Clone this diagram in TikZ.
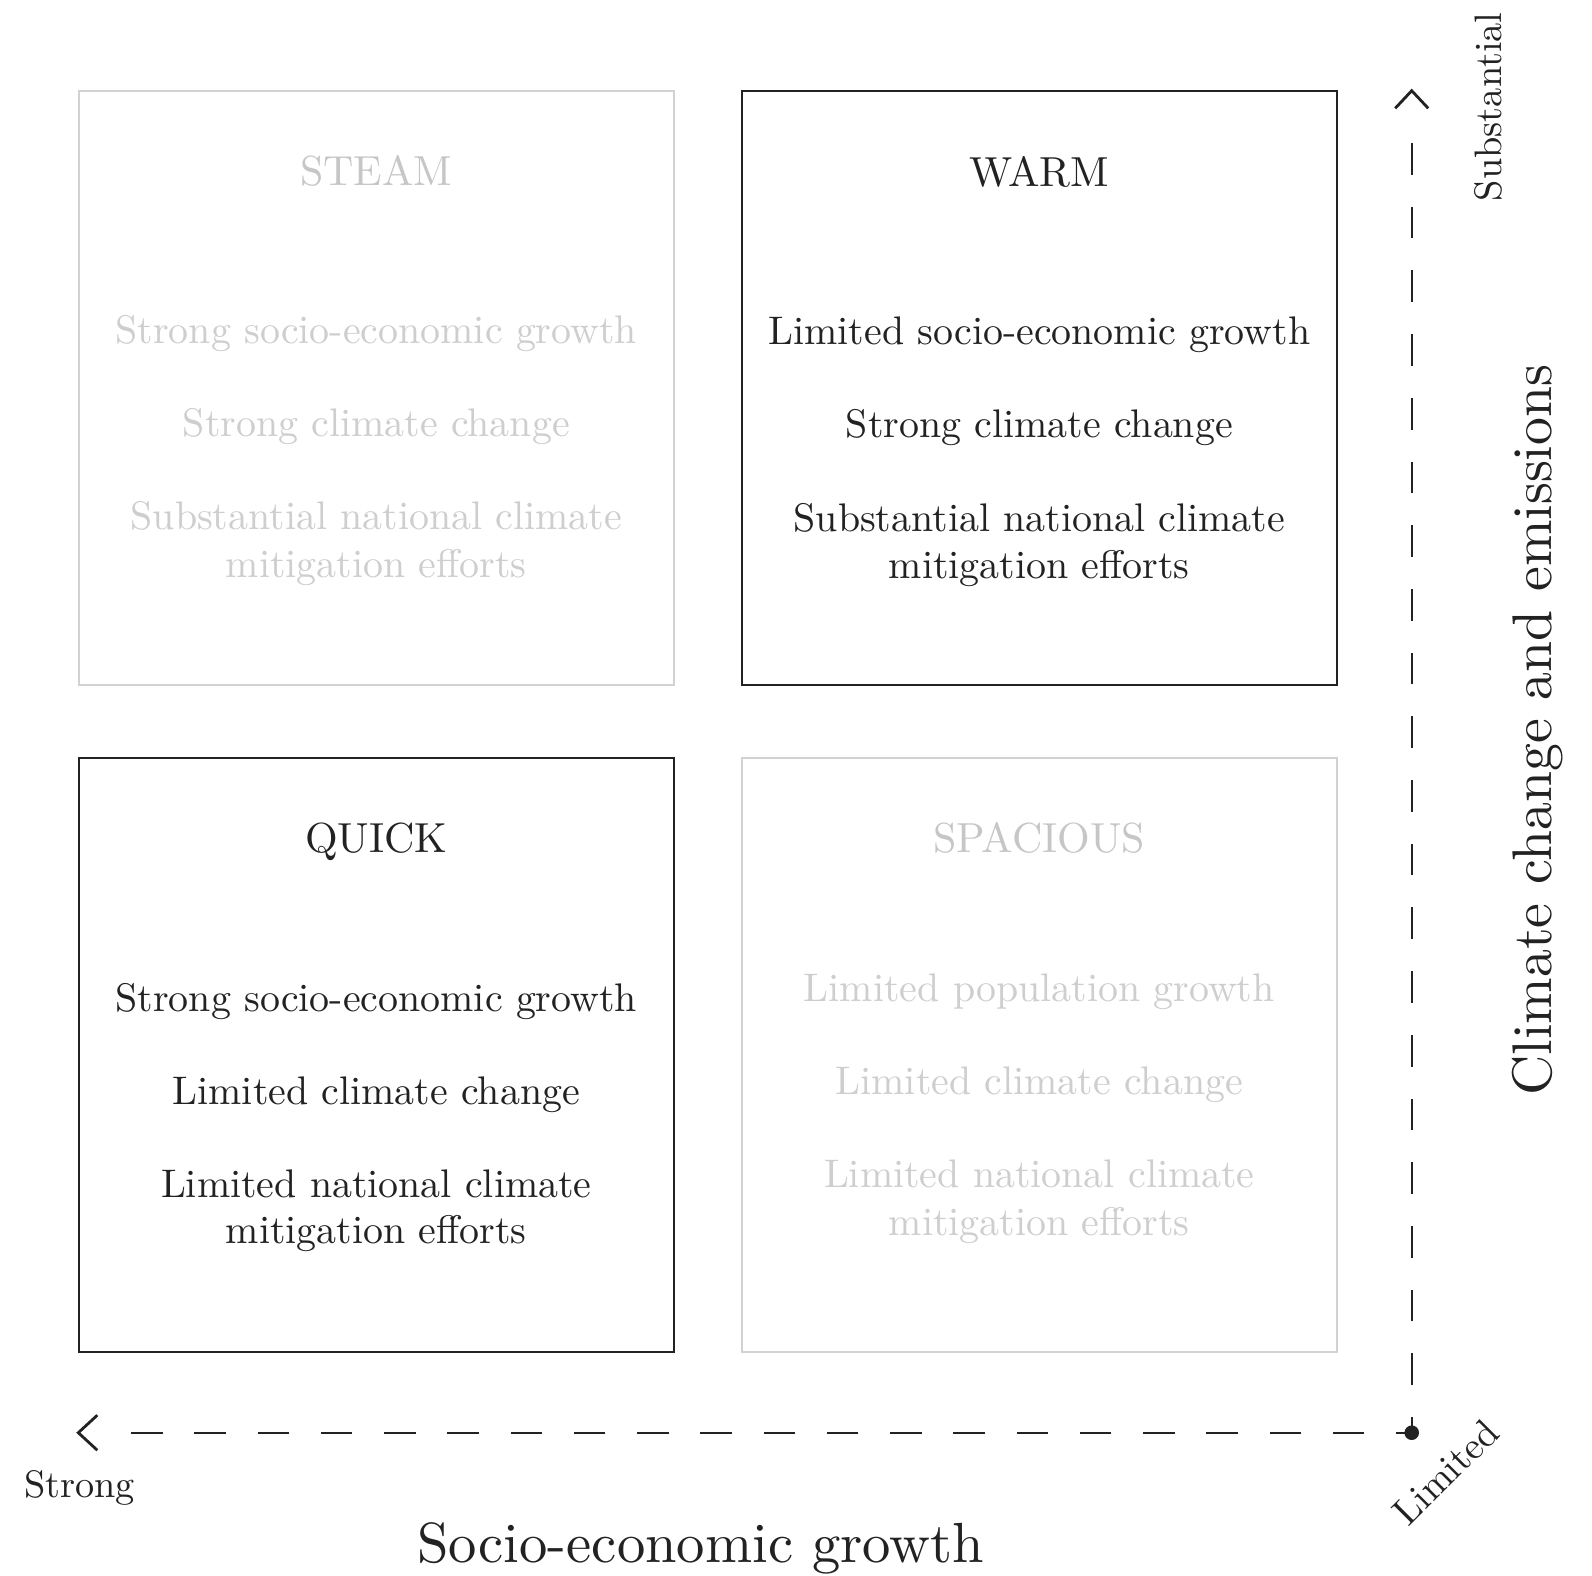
\documentclass[tikz,border=0pt]{standalone}
\usepackage{fontspec}
\setmainfont{lmroman10-regular.otf}
\usetikzlibrary{calc}
\definecolor{ink}{HTML}{222222}
\definecolor{faintline}{HTML}{D2D2D2}
\definecolor{fainttext}{HTML}{CECECE}
\definecolor{fainttitle}{HTML}{C6C6C6}
\begin{document}
\begin{tikzpicture}[x=1pt,y=-1pt,
  quad/.style={draw=#1, line width=1.6pt, minimum width=595pt, minimum height=594pt, anchor=north west, inner sep=0pt},
  ttl/.style={anchor=base, inner sep=0pt, text=#1, font=\fontsize{42}{48}\selectfont},
  item/.style={anchor=base, inner sep=0pt, text=#1, font=\fontsize{39.9}{47}\selectfont},
  axislabel/.style={anchor=base, inner sep=0pt, text=ink, font=\fontsize{56.6}{62}\selectfont},
  ylabelfont/.style={anchor=base, inner sep=0pt, text=ink, font=\fontsize{55.8}{62}\selectfont},
  endlabel/.style={anchor=base, inner sep=0pt, text=ink, font=\fontsize{38.3}{44}\selectfont},
  hdash/.style={draw=ink, line width=2pt, dash pattern=on 31.5pt off 31.75pt, dash phase=15.8pt},
  vdash/.style={draw=ink, line width=2pt, dash pattern=on 31.7pt off 32pt, dash phase=16pt},
  chev/.style={draw=ink, line width=2.8pt, line join=miter}
]
\useasboundingbox (0,0) rectangle (1592,1575);
\fill[white] (0,0) rectangle (1592,1575);

% quadrants
\node[quad=faintline] (steam) at (78,90) {};
\node[quad=ink] (warm) at (741,90) {};
\node[quad=ink] (quick) at (78,757) {};
\node[quad=faintline] (spacious) at (741,757) {};

% STEAM
\node[ttl=fainttitle] (steamT) at ($(steam.north)+(0,95.5)$) {STEAM};
\node[item=fainttext] (steam1) at ($(steam.north)+(0,253)$) {Strong socio-economic growth};
\node[item=fainttext] (steam2) at ($(steam.north)+(0,346.3)$) {Strong climate change};
\node[item=fainttext] (steam3a) at ($(steam.north)+(0,439.6)$) {Substantial national climate};
\node[item=fainttext] (steam3b) at ($(steam.north)+(0,487)$) {mitigation efforts};

% WARM
\node[ttl=ink] (warmT) at ($(warm.north)+(0,96)$) {WARM};
\node[item=ink] (warm1) at ($(warm.north)+(0,254.5)$) {Limited socio-economic growth};
\node[item=ink] (warm2) at ($(warm.north)+(0,347.8)$) {Strong climate change};
\node[item=ink] (warm3a) at ($(warm.north)+(0,441.1)$) {Substantial national climate};
\node[item=ink] (warm3b) at ($(warm.north)+(0,488.5)$) {mitigation efforts};

% QUICK
\node[ttl=ink] (quickT) at ($(quick.north)+(0,95.5)$) {QUICK};
\node[item=ink] (quick1) at ($(quick.north)+(0,254)$) {Strong socio-economic growth};
\node[item=ink] (quick2) at ($(quick.north)+(0,347.3)$) {Limited climate change};
\node[item=ink] (quick3a) at ($(quick.north)+(0,440.6)$) {Limited national climate};
\node[item=ink] (quick3b) at ($(quick.north)+(0,486.5)$) {mitigation efforts};

% SPACIOUS
\node[ttl=fainttitle] (spaciousT) at ($(spacious.north)+(0,95.5)$) {SPACIOUS};
\node[item=fainttext] (spacious1) at ($(spacious.north)+(0,244)$) {Limited population growth};
\node[item=fainttext] (spacious2) at ($(spacious.north)+(0,337.3)$) {Limited climate change};
\node[item=fainttext] (spacious3a) at ($(spacious.north)+(0,430.5)$) {Limited national climate};
\node[item=fainttext] (spacious3b) at ($(spacious.north)+(0,478)$) {mitigation efforts};

% axes
\coordinate (origin) at (1411.7,1432.7);
\coordinate (xend) at (112,1432.7);
\coordinate (yend) at (1411.7,125);
\coordinate (xtip) at (78.3,1432.7);
\coordinate (ytip) at (1411.7,90.7);
\draw[hdash] (origin) -- (xend);
\draw[vdash] (origin) -- (yend);
\draw[chev] ($(xtip)+(19,-17.5)$) -- (xtip) -- ($(xtip)+(19,17.5)$);
\draw[chev] ($(ytip)+(-16.5,17.6)$) -- (ytip) -- ($(ytip)+(16.5,17.6)$);
\fill[ink] (origin) circle (7.3pt);

% axis labels
\node[axislabel] (xlabel) at (700.5,1562) {Socio-economic growth};
\node[ylabelfont, rotate=90] (ylabel) at (1551,730) {Climate change and emissions};
\node[endlabel] (strong) at (79.5,1497) {Strong};
\node[endlabel, rotate=90] (substantial) at (1501.5,106.7) {Substantial};
\node[endlabel, rotate=45] (limited) at (1455,1481) {Limited};
\end{tikzpicture}
\end{document}
